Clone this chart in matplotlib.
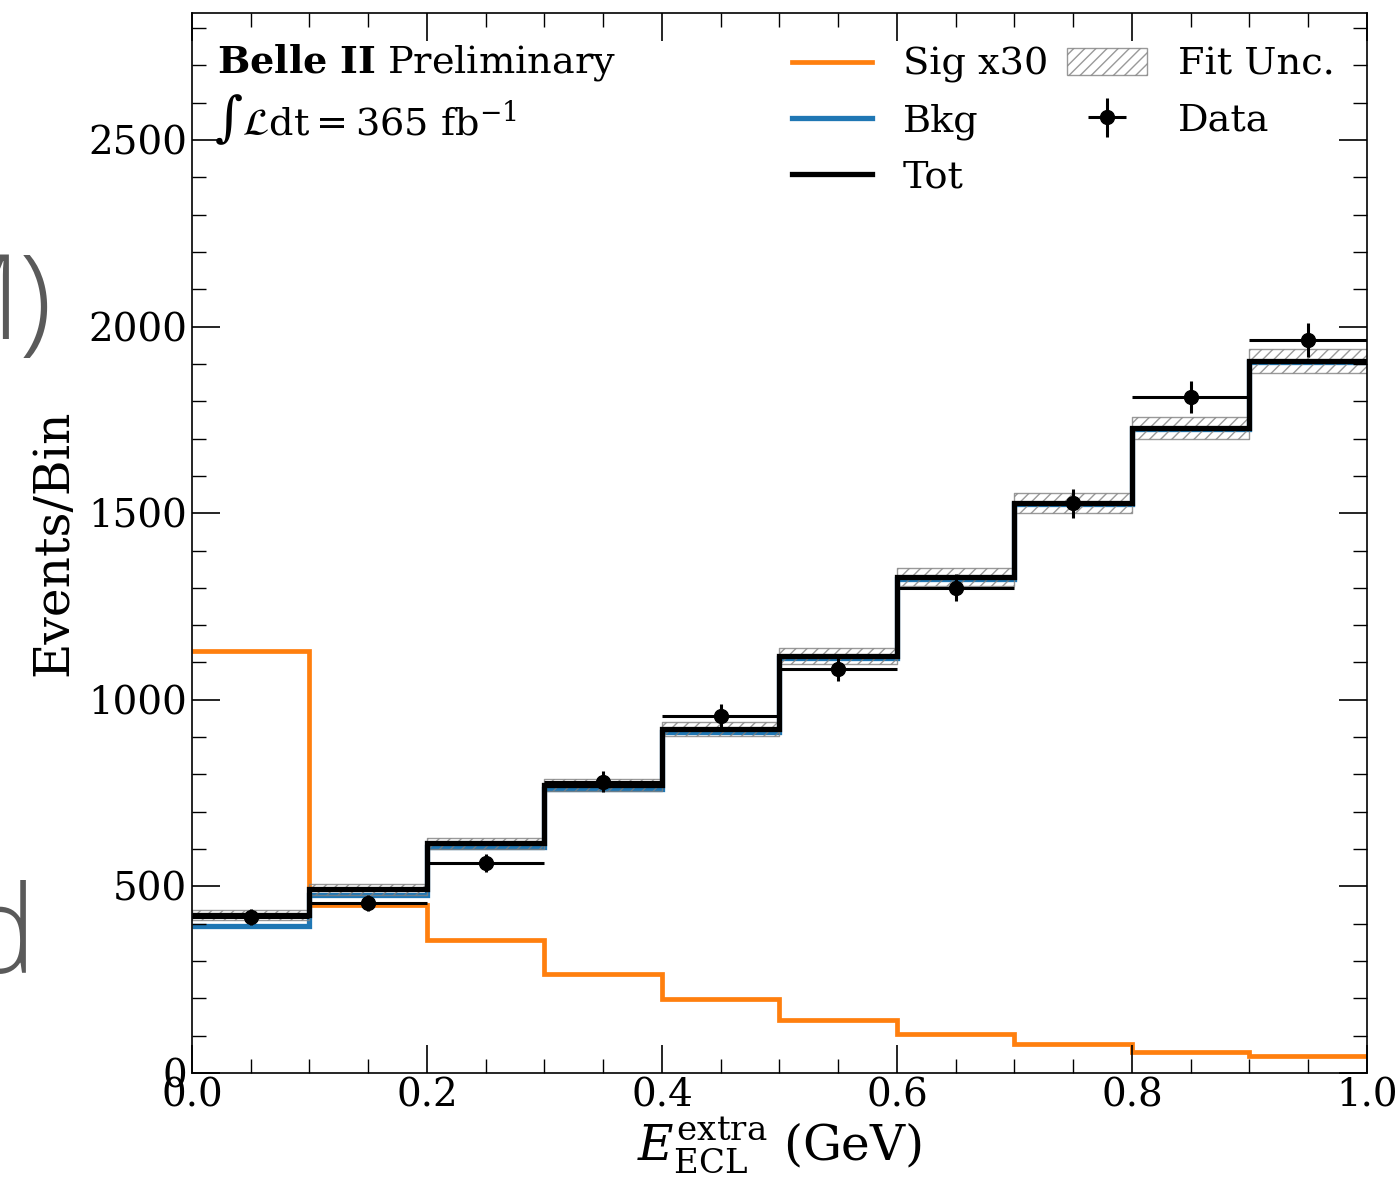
import numpy as np
import matplotlib.pyplot as plt

plt.rcParams['font.family'] = 'DejaVu Serif'
plt.rcParams['mathtext.fontset'] = 'dejavuserif'

# binning
edges = np.linspace(0.0, 1.0, 11)
centers = 0.5*(edges[:-1] + edges[1:])

# values
sig_x30 = np.array([1131, 450, 356, 265, 198, 142, 104, 78, 56, 46])
bkg = np.array([394, 477, 606, 761, 914, 1112, 1325, 1524, 1726, 1906])
tot = np.array([423, 492, 616, 772, 922, 1117, 1329, 1527, 1728, 1908])
fit_unc = np.array([14, 14, 15, 17, 19, 21, 23, 26, 29, 33])
data = np.array([418, 455, 563, 780, 957, 1083, 1300, 1527, 1811, 1964])
data_err = np.sqrt(data)

fig = plt.figure(figsize=(13.98, 11.84), dpi=100)
ax = fig.add_axes([0.1373, 0.0937, 0.8405, 0.8953])

h_sig = ax.stairs(sig_x30, edges, baseline=None, color='#ff7f0e', lw=3.4, label='Sig x30')
h_bkg = ax.stairs(bkg, edges, baseline=None, color='#1f77b4', lw=3.8, label='Bkg')
h_fit = ax.fill_between(edges, np.append(tot - fit_unc, (tot - fit_unc)[-1]),
                        np.append(tot + fit_unc, (tot + fit_unc)[-1]), step='post',
                        facecolor='none', edgecolor='gray', hatch='///', lw=1.0,
                        alpha=0.8, label='Fit Unc.')
h_tot = ax.stairs(tot, edges, baseline=None, color='black', lw=3.8, label='Tot')
h_data = ax.errorbar(centers, data, xerr=0.05, yerr=data_err, fmt='o', color='black',
                     ms=10, elinewidth=2.2, capsize=0, label='Data')

ax.set_xlim(0, 1)
ax.set_ylim(0, 2840)
ax.set_xticks(np.arange(0, 1.01, 0.2))
ax.set_xticks(np.arange(0, 1.01, 0.05), minor=True)
ax.set_yticks(np.arange(0, 2501, 500))
ax.set_yticks(np.arange(0, 2801, 100), minor=True)
ax.tick_params(which='both', direction='in', top=True, right=True, labelsize=28)
ax.tick_params(which='major', length=20, width=1.2)
ax.tick_params(which='minor', length=10, width=1.0)
ax.xaxis.set_major_formatter(plt.FuncFormatter(lambda v, p: f'{v:.1f}'))
for s in ax.spines.values():
    s.set_linewidth(1.2)

ax.set_xlabel(r'$E_{\mathrm{ECL}}^{\mathrm{extra}}$ (GeV)', fontsize=35, labelpad=0)
ax.set_ylabel('Events/Bin', fontsize=35, labelpad=8)

ax.text(0.021, 0.973, r'$\mathbf{Belle\ II}$ Preliminary', transform=ax.transAxes,
        fontsize=27.5, va='top', ha='left')
ax.text(0.019, 0.925, r'$\int\mathcal{L}\mathrm{dt} = 365\ \mathrm{fb}^{-1}$',
        transform=ax.transAxes, fontsize=27.5, va='top', ha='left')

ax.legend(handles=[h_sig, h_bkg, h_tot, h_fit, h_data],
          labels=['Sig x30', 'Bkg', 'Tot', 'Fit Unc.', 'Data'],
          ncol=2, loc='upper right', bbox_to_anchor=(1.005, 1.004),
          frameon=False, fontsize=27.5,
          handlelength=2.1, columnspacing=0.5, handletextpad=0.8,
          borderaxespad=0.6, labelspacing=0.52)

# stray slide text peeking in at the left edge
fig.text(0.037, 0.74, 'M)', fontsize=85, color='#5a5a5a', family='Open Sans',
         fontweight='light', ha='right', va='center')
fig.text(0.026, 0.205, 'd', fontsize=88, color='#5a5a5a', family='Open Sans',
         fontweight='light', ha='right', va='center')

fig.savefig('out.png', dpi=100)
